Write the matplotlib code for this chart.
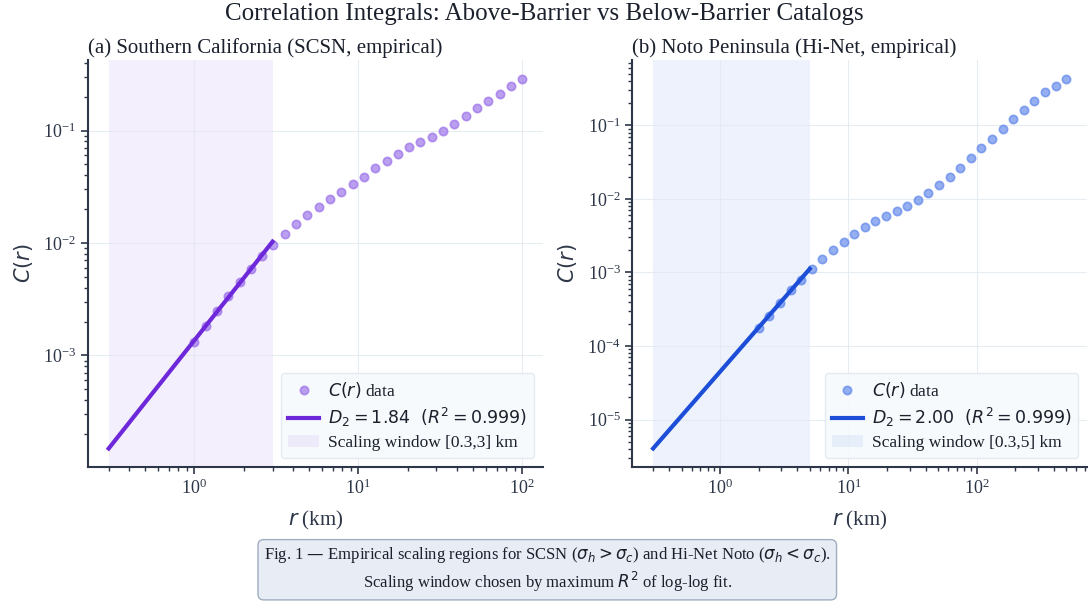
import numpy as np
import matplotlib
matplotlib.use('Agg')
import matplotlib.pyplot as plt

plt.rcParams['font.family'] = ['Liberation Serif', 'DejaVu Serif']
plt.rcParams['mathtext.fontset'] = 'dejavusans'

# (a) SCSN - r in km, log10 C(r)
r_a = np.logspace(0, 2, 30)
logC_a = [-2.879, -2.740, -2.607, -2.473, -2.346, -2.228, -2.115, -2.021, -1.917, -1.834,
          -1.751, -1.678, -1.612, -1.547, -1.479, -1.411, -1.337, -1.269, -1.207, -1.148,
          -1.101, -1.059, -1.006, -0.938, -0.867, -0.799, -0.740, -0.675, -0.604, -0.538]
win_a = [0.3, 3]
D2_a = 1.84
icpt_a = -2.866   # log10 C at r = 1 km
R2_a = 0.999

# (b) Hi-Net Noto
r_b = np.logspace(np.log10(2), np.log10(500), 30)
logC_b = [-3.758, -3.586, -3.410, -3.238, -3.102, -2.953, -2.822, -2.700, -2.582, -2.474,
          -2.379, -2.297, -2.230, -2.162, -2.090, -2.013, -1.918, -1.814, -1.701, -1.583,
          -1.443, -1.312, -1.181, -1.054, -0.919, -0.792, -0.665, -0.552, -0.457, -0.363]
win_b = [0.3, 5]
D2_b = 2.00
icpt_b = -4.348
R2_b = 0.999

dark = '#2d3748'

fig = plt.figure(figsize=(10.88, 6.01), dpi=100)
ax1 = fig.add_axes([0.0809, 0.223, 0.418, 0.677])
ax2 = fig.add_axes([0.5813, 0.223, 0.4177, 0.677])

panels = [
    (ax1, r_a, logC_a, win_a, D2_a, icpt_a, R2_a, '#9061e6', '#6d28d9', '#7c3aed',
     '(a) Southern California (SCSN, empirical)'),
    (ax2, r_b, logC_b, win_b, D2_b, icpt_b, R2_b, '#4f7be8', '#1d4ed8', '#2563eb',
     '(b) Noto Peninsula (Hi-Net, empirical)'),
]

for ax, r, logC, win, D2, icpt, R2, dotc, linec, spanc, title in panels:
    ax.axvspan(win[0], win[1], color=spanc, alpha=0.08, lw=0, zorder=0,
               label='Scaling window [%g,%g] km' % (win[0], win[1]))
    ax.plot(r, 10 ** np.array(logC), 'o', color=dotc, ms=6, mew=1.2, alpha=0.6,
            zorder=2, label='$C(r)$ data')
    rf = np.logspace(np.log10(win[0]), np.log10(win[1]), 50)
    ax.plot(rf, 10 ** (icpt + D2 * np.log10(rf)), color=linec, lw=3, zorder=3,
            label=r'$D_2 = %.2f\ \ (R^2 = %.3f)$' % (D2, R2))
    ax.set_xscale('log')
    ax.set_yscale('log')
    ax.grid(True, which='major', color='#e2e8f0', lw=0.8, alpha=0.8, zorder=1)
    ax.set_axisbelow(True)
    for s in ['top', 'right']:
        ax.spines[s].set_visible(False)
    for s in ['left', 'bottom']:
        ax.spines[s].set_color(dark)
        ax.spines[s].set_linewidth(1.5)
    ax.tick_params(which='both', colors=dark, labelsize=13)
    ax.tick_params(which='major', length=5, width=1.2)
    ax.tick_params(which='minor', length=3, width=1.0)
    ax.set_xlabel('$r$ (km)', fontsize=15, color=dark, labelpad=8)
    ax.set_ylabel('$C(r)$', fontsize=15, color=dark, labelpad=6)
    ax.set_title(title, loc='left', fontsize=15, color='#1a202c', pad=5)
    h, l = ax.get_legend_handles_labels()
    leg = ax.legend([h[1], h[2], h[0]], [l[1], l[2], l[0]], loc='lower right',
                    fontsize=12.5, facecolor='#f7fafc', edgecolor='#e2e8f0',
                    framealpha=0.9, labelcolor='#1a202c', handlelength=1.8,
                    handletextpad=0.5, labelspacing=0.35)
    leg.get_frame().set_linewidth(1.0)

fig.suptitle('Correlation Integrals: Above-Barrier vs Below-Barrier Catalogs',
             fontsize=18, color='#1a202c', y=0.995)

fig.text(0.503, 0.052,
         r'Fig. 1 — Empirical scaling regions for SCSN ($\sigma_h > \sigma_c$) and Hi-Net Noto ($\sigma_h < \sigma_c$).'
         '\n' r'Scaling window chosen by maximum $R^2$ of log-log fit.',
         ha='center', va='center', fontsize=12, color='#1a202c', linespacing=1.25,
         bbox=dict(boxstyle='round,pad=0.35', fc='#e8edf5', ec='#a0aec0', lw=1))

fig.savefig('out.png', dpi=100)
